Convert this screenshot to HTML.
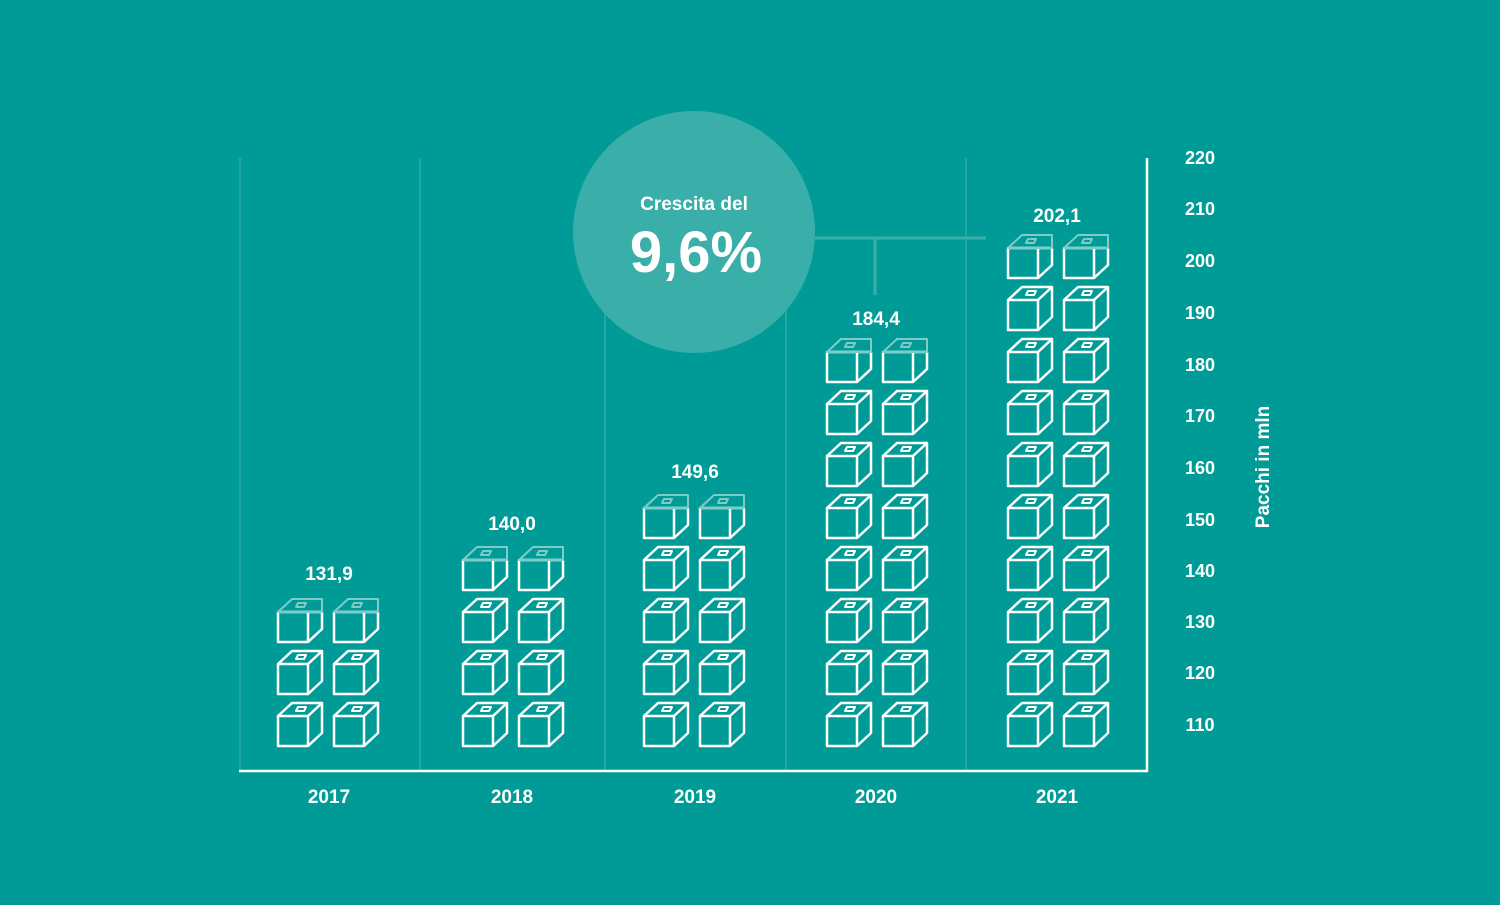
<!DOCTYPE html>
<html><head><meta charset="utf-8"><style>
body{margin:0;width:1500px;height:900px;background:#009b96;overflow:hidden}
svg text{font-family:"Liberation Sans",sans-serif;font-weight:bold;fill:#fff}
</style></head><body>
<svg width="1500" height="900" viewBox="0 0 1500 900">
<defs>
<g id="c" fill="none" stroke="#fff" stroke-width="2.5" stroke-linejoin="round">
<rect x="0" y="-30" width="30" height="30"/>
<path d="M30 0 L44 -13 L44 -43 L14 -43 L0 -30 M30 -30 L44 -43"/>
<path d="M20 -39 L28 -39 L26 -35 L18 -35 Z" stroke-width="2"/>
</g>
<g id="t" fill="none" stroke-linejoin="round">
<rect x="0" y="-30" width="30" height="30" stroke="#fff" stroke-width="2.5"/>
<path d="M30 0 L44 -13 L44 -30 M30 -30 L44 -30" stroke="#fff" stroke-width="2.5"/>
<path d="M0 -30 L14 -43 L44 -43 L44 -30 L30 -30 Z M20 -39 L28 -39 L26 -35 L18 -35 Z" stroke="#7fcbc8" stroke-width="2"/>
</g>
</defs>
<g stroke="#2aaca6" stroke-width="1.5">
<line x1="240" y1="158" x2="240" y2="771"/><line x1="420" y1="158" x2="420" y2="771"/>
<line x1="605" y1="158" x2="605" y2="771"/><line x1="786" y1="158" x2="786" y2="771"/>
<line x1="966" y1="158" x2="966" y2="771"/>
</g>
<line x1="239" y1="771" x2="1148" y2="771" stroke="#fff" stroke-width="2.5"/>
<line x1="1147" y1="158" x2="1147" y2="772" stroke="#fff" stroke-width="2.5"/>
<g id="cubes"></g>
<circle cx="694" cy="232" r="121" fill="#3aafaa"/>
<path d="M815 238 H986 M875 238 V295" stroke="#3aafaa" stroke-width="3" fill="none"/>
<text x="694" y="210" font-size="19" text-anchor="middle">Crescita del</text>
<text x="696" y="272" font-size="58" text-anchor="middle">9,6%</text>
<g font-size="19" text-anchor="middle">
<text x="329" y="580">131,9</text><text x="512" y="530">140,0</text>
<text x="695" y="478">149,6</text><text x="876" y="325">184,4</text>
<text x="1057" y="222">202,1</text>
<text x="329" y="803">2017</text><text x="512" y="803">2018</text>
<text x="695" y="803">2019</text><text x="876" y="803">2020</text>
<text x="1057" y="803">2021</text>
</g>
<g font-size="18" text-anchor="middle">
<text x="1200" y="164">220</text><text x="1200" y="215">210</text><text x="1200" y="267">200</text>
<text x="1200" y="319">190</text><text x="1200" y="371">180</text><text x="1200" y="422">170</text>
<text x="1200" y="474">160</text><text x="1200" y="526">150</text><text x="1200" y="577">140</text>
<text x="1200" y="628">130</text><text x="1200" y="679">120</text><text x="1200" y="731">110</text>
</g>
<text transform="translate(1269,467) rotate(-90)" font-size="19" text-anchor="middle">Pacchi in mln</text>
<g>
<!-- generated cubes -->
</g>
</svg>
<script>
var cols=[[278,334,3],[463,519,4],[644,700,5],[827,883,8],[1008,1064,10]];
var g=document.getElementById('cubes'),s='';
cols.forEach(function(c){for(var i=0;i<c[2];i++){var y=746-52*i,id=(i==c[2]-1)?'t':'c';
s+='<use href="#'+id+'" x="'+c[0]+'" y="'+y+'"/><use href="#'+id+'" x="'+c[1]+'" y="'+y+'"/>';}});
g.innerHTML=s;
</script>
</body></html>
